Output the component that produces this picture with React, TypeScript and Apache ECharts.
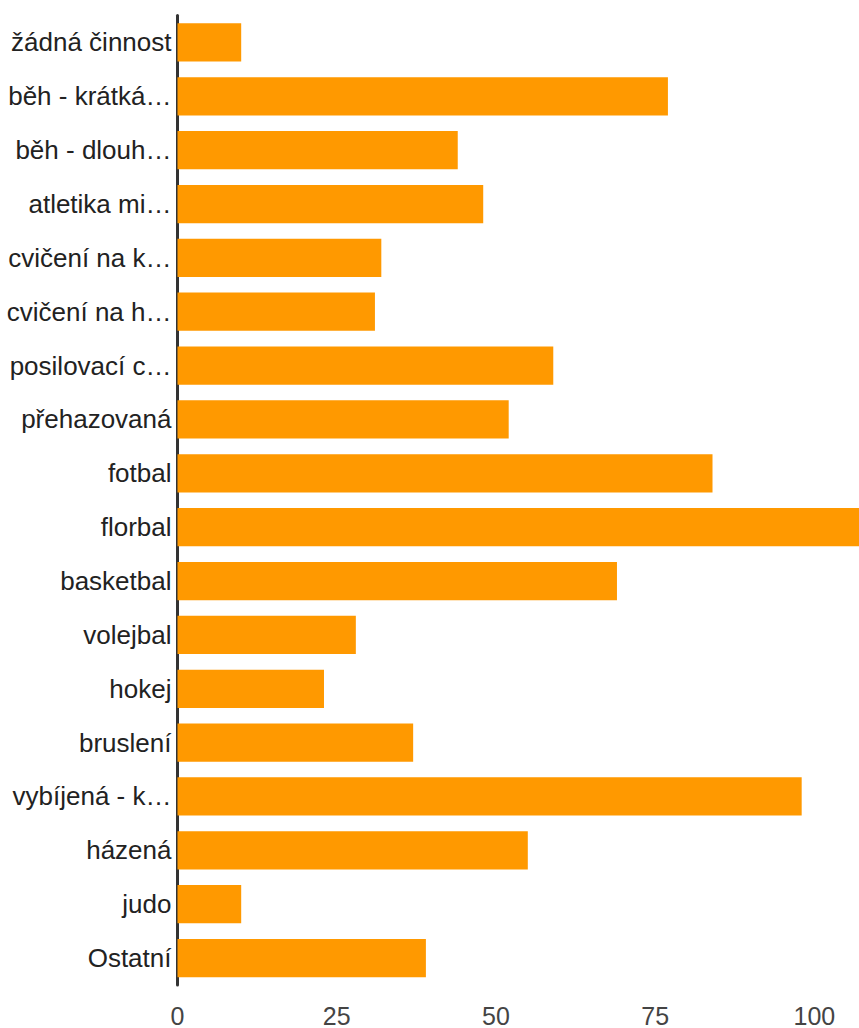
import React, { useEffect, useRef } from "react";
import * as echarts from "echarts";

const categories = [
  "žádná činnost",
  "běh - krátká…",
  "běh - dlouh…",
  "atletika mi…",
  "cvičení na k…",
  "cvičení na h…",
  "posilovací c…",
  "přehazovaná",
  "fotbal",
  "florbal",
  "basketbal",
  "volejbal",
  "hokej",
  "bruslení",
  "vybíjená - k…",
  "házená",
  "judo",
  "Ostatní",
];
const values = [10, 77, 44, 48, 32, 31, 59, 52, 84, 107, 69, 28, 23, 37, 98, 55, 10, 39];
const xMin = 0;
const xMax = 107;
const xInterval = 25;

export default function App() {
  const ref = useRef<HTMLDivElement>(null);
  useEffect(() => {
    if (!ref.current) return;
    const chart = echarts.init(ref.current, null, { renderer: "svg" });
    chart.setOption({
      animation: false,
      backgroundColor: "#ffffff",
      grid: { left: 177.5, right: 0, top: 15.5, bottom: 40.5, containLabel: false },
      xAxis: {
        type: "value",
        min: xMin,
        max: xMax,
        interval: xInterval,
        axisLine: { show: false },
        axisTick: { show: false },
        splitLine: { show: false },
        axisLabel: {
          showMaxLabel: false,
          color: "#444444",
          fontFamily: "'Liberation Sans', Arial, sans-serif",
          fontSize: 25,
          margin: 18,
          formatter: (v: number) => (v % xInterval === 0 ? String(v) : ""),
        },
      },
      yAxis: {
        type: "category",
        data: categories,
        inverse: true,
        axisLine: { show: true, lineStyle: { color: "#333333", width: 3 } },
        axisTick: { show: false },
        splitLine: { show: false },
        axisLabel: {
          color: "#222222",
          fontFamily: "'Liberation Sans', Arial, sans-serif",
          fontSize: 26,
          margin: 6,
        },
      },
      series: [
        {
          type: "bar",
          data: values,
          barCategoryGap: "29%",
          itemStyle: { color: "#ff9900" },
        },
      ],
    });
    return () => chart.dispose();
  }, []);
  return (
    <div
      ref={ref}
      style={{ position: "fixed", left: 0, top: 0, width: 859, height: 1028 }}
    />
  );
}
